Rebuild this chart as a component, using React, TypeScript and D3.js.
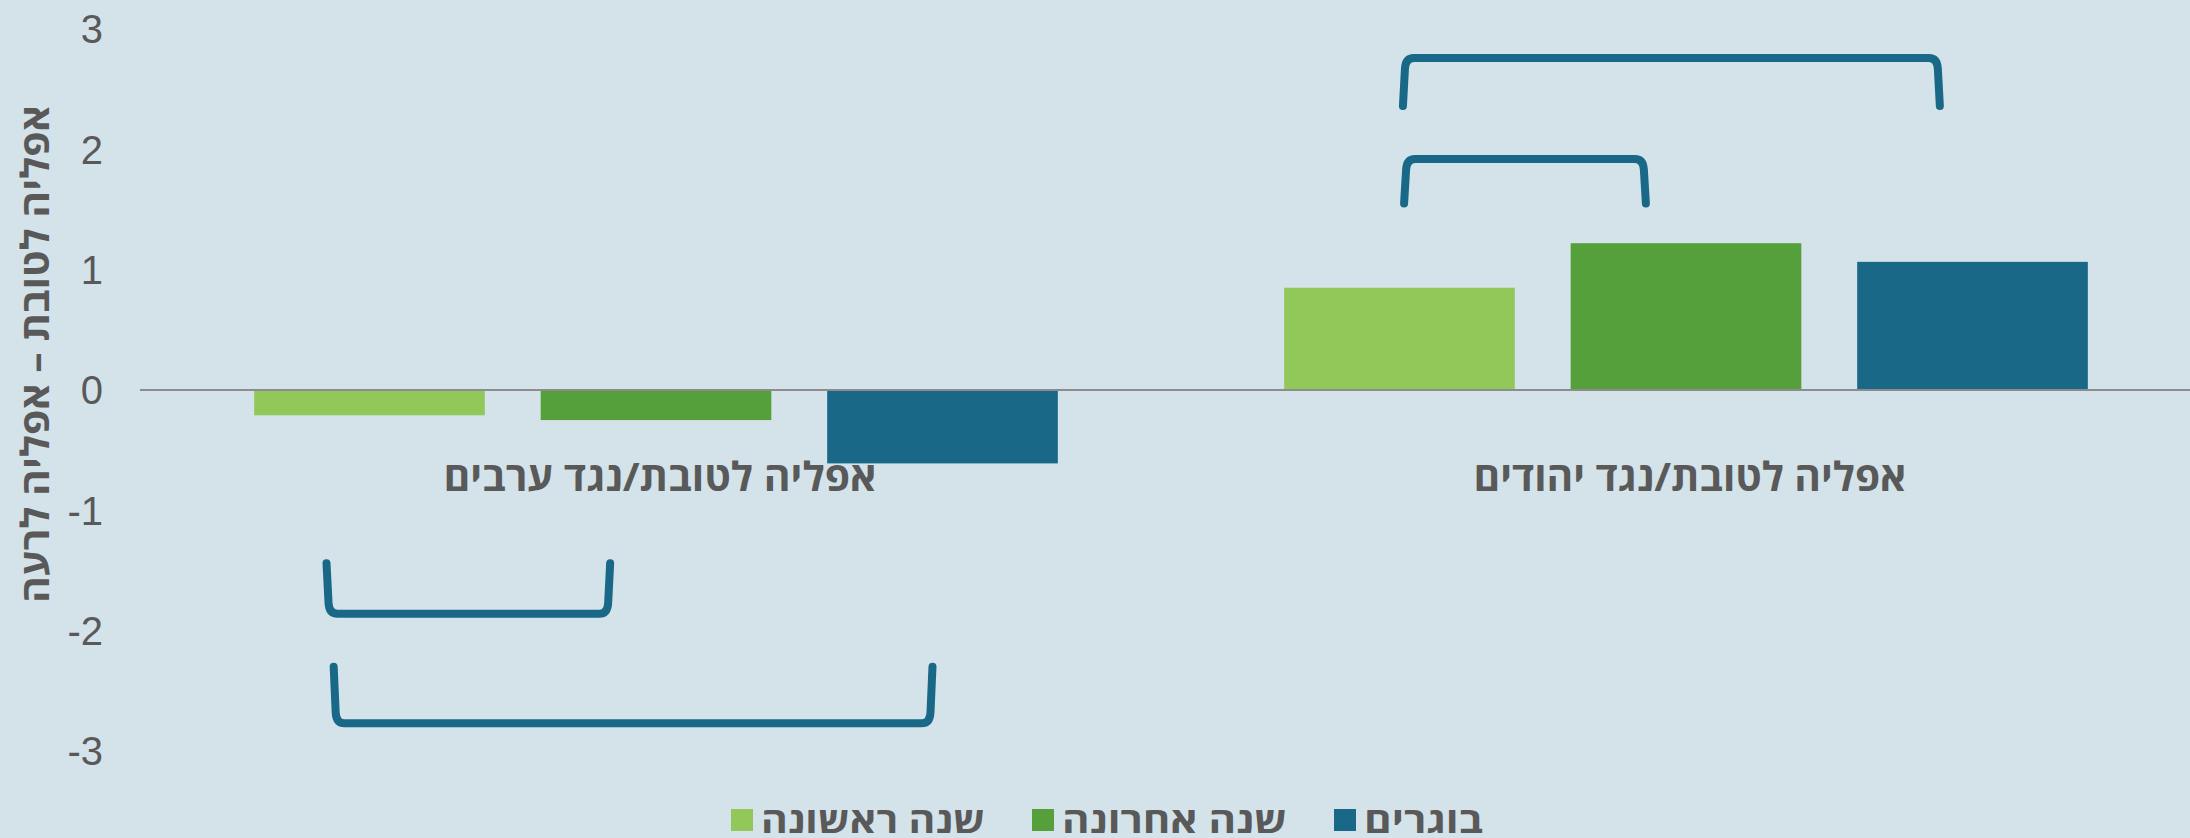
import React, { useEffect, useRef } from "react";
import * as d3 from "d3";

const categories = ["אפליה לטובת/נגד ערבים", "אפליה לטובת/נגד יהודים"];
const seriesNames = ["שנה ראשונה", "שנה אחרונה", "בוגרים"];
const firstYear = [-0.21, 0.85];
const lastYear = [-0.25, 1.22];
const graduates = [-0.61, 1.065];
const seriesValues = [firstYear, lastYear, graduates];
const seriesColors = ["#92c85a", "#55a03b", "#196887"];
const yTicks = [-3, -2, -1, 0, 1, 2, 3];
const yTitle = "אפליה לטובת – אפליה לרעה";

// significance brackets: category index, from/to bar positions (fractional series index), bar y and tip y (data units)
const brackets = [
  { cat: 0, from: -0.15, to: 0.84, bar: -1.86, tip: -1.44 },
  { cat: 0, from: -0.125, to: 1.965, bar: -2.77, tip: -2.3 },
  { cat: 1, from: 0.016, to: 0.86, bar: 1.92, tip: 1.55 },
  { cat: 1, from: 0.012, to: 1.886, bar: 2.76, tip: 2.36 },
];

const W = 2190;
const H = 838;
const HEB = "'Open Sans', 'DejaVu Sans', sans-serif";
const TXT = "#595959";

export default function App() {
  const ref = useRef<SVGSVGElement>(null);

  useEffect(() => {
    document.body.style.margin = "0";
    const svg = d3.select(ref.current);
    svg.selectAll("*").remove();

    const x0 = d3.scaleBand<number>().domain(categories.map((_, i) => i)).range([141, 2201]);
    const x1 = d3
      .scaleBand<number>()
      .domain(seriesNames.map((_, i) => i))
      .range([0, x0.bandwidth()])
      .paddingInner(0.195)
      .paddingOuter(0.395);
    const y = d3.scaleLinear().domain([-3, 3]).range([751, 29]);

    svg.append("rect").attr("width", W).attr("height", H).attr("fill", "#d4e3ea");

    // bars
    seriesValues.forEach((vals, s) => {
      svg
        .append("g")
        .selectAll("rect")
        .data(vals)
        .join("rect")
        .attr("x", (_, c) => (x0(c) as number) + (x1(s) as number))
        .attr("width", x1.bandwidth())
        .attr("y", (v) => y(Math.max(0, v)))
        .attr("height", (v) => Math.abs(y(v) - y(0)))
        .attr("fill", seriesColors[s]);
    });

    // zero line
    svg
      .append("line")
      .attr("x1", 140)
      .attr("x2", W)
      .attr("y1", y(0))
      .attr("y2", y(0))
      .attr("stroke", "#8c8c8c")
      .attr("stroke-width", 2);

    // y tick labels
    svg
      .append("g")
      .selectAll("text")
      .data(yTicks)
      .join("text")
      .attr("x", 103)
      .attr("y", (d) => y(d))
      .attr("dy", "0.36em")
      .attr("text-anchor", "end")
      .attr("font-family", "'Liberation Sans', Arial, sans-serif")
      .attr("font-size", 40)
      .attr("fill", TXT)
      .text((d) => String(d));

    // y title
    svg
      .append("text")
      .attr("transform", `translate(49, ${354}) rotate(-90)`)
      .attr("text-anchor", "middle")
      .attr("font-family", HEB)
      .attr("font-weight", 700)
      .attr("font-size", 39)
      .attr("textLength", 498)
      .attr("lengthAdjust", "spacingAndGlyphs")
      .attr("fill", TXT)
      .text(yTitle);

    // category labels
    svg
      .append("g")
      .selectAll("text")
      .data(categories)
      .join("text")
      .attr("x", (_, i) => (x0(i) as number) + x0.bandwidth() / 2 + 4)
      .attr("y", 491)
      .attr("text-anchor", "middle")
      .attr("font-family", HEB)
      .attr("font-weight", 700)
      .attr("font-size", 40)
      .attr("textLength", 433)
      .attr("lengthAdjust", "spacingAndGlyphs")
      .attr("fill", TXT)
      .text((d) => d);

    // brackets
    const posX = (c: number, p: number) =>
      (x0(c) as number) + (x1(0) as number) + x1.bandwidth() / 2 + p * x1.step();
    svg
      .append("g")
      .selectAll("path")
      .data(brackets)
      .join("path")
      .attr("d", (b) => {
        const xl = posX(b.cat, b.from);
        const xr = posX(b.cat, b.to);
        const yb = y(b.bar);
        const yt = y(b.tip);
        const dir = yt < yb ? -1 : 1;
        const r = 11;
        return [
          `M${xl},${yt}`,
          `L${xl + 2},${yb + dir * r}`,
          `Q${xl + 2.5},${yb} ${xl + r},${yb}`,
          `L${xr - r},${yb}`,
          `Q${xr - 2.5},${yb} ${xr - 2},${yb + dir * r}`,
          `L${xr},${yt}`,
        ].join(" ");
      })
      .attr("fill", "none")
      .attr("stroke", "#196887")
      .attr("stroke-width", 8)
      .attr("stroke-linecap", "round")
      .attr("stroke-linejoin", "round");

    // legend (RTL order: first series on the right)
    const legendTextW = [224, 225, 119];
    const lg = svg.append("g");
    const sq = 22;
    const sqGap = 8;
    const itemGap = 47;
    const widths = legendTextW.map((w) => sq + sqGap + w);
    const total = d3.sum(widths) + itemGap * (widths.length - 1);
    let left = 1107 - total / 2;
    seriesNames.forEach((name, i) => {
      lg.append("rect")
        .attr("x", left)
        .attr("y", 809)
        .attr("width", sq)
        .attr("height", sq)
        .attr("fill", seriesColors[i]);
      lg.append("text")
        .attr("x", left + sq + sqGap + legendTextW[i])
        .attr("y", 833)
        .attr("text-anchor", "end")
        .attr("font-family", HEB)
        .attr("font-weight", 700)
        .attr("font-size", 36)
        .attr("textLength", legendTextW[i])
        .attr("lengthAdjust", "spacingAndGlyphs")
        .attr("fill", TXT)
        .text(name);
      left += widths[i] + itemGap;
    });
  }, []);

  return <svg ref={ref} width={W} height={H} style={{ display: "block" }} />;
}
